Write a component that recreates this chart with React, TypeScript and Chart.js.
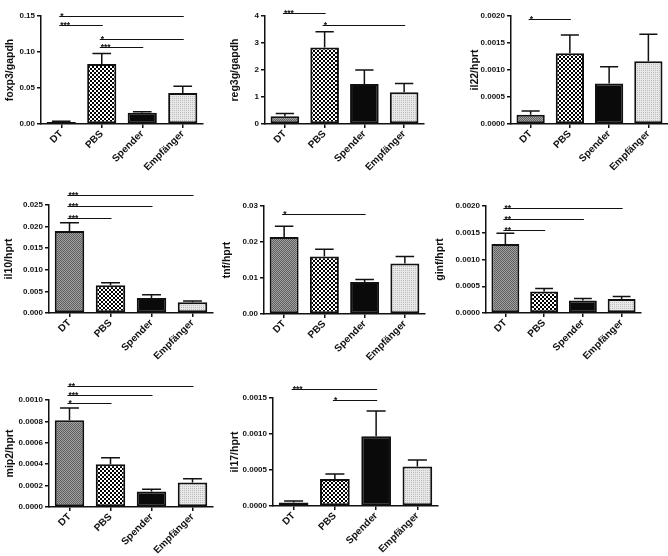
import React, { useEffect, useRef } from 'react';
import { Chart, registerables } from 'chart.js';

Chart.register(...registerables);

// ---------- data ----------
const categories = ['DT', 'PBS', 'Spender', 'Empfänger'];

const foxp3Mean = [0.0028, 0.0833, 0.0157, 0.043];
const foxp3Sem = [0.0009, 0.0147, 0.0014, 0.0093];
const foxp3Ticks = ['0.00', '0.05', '0.10', '0.15'];
const foxp3Sig = [[0, 3, 0.15, '*'], [0, 1, 0.1375, '***'], [1, 3, 0.118, '*'], [1, 2, 0.107, '***']];

const reg3gMean = [0.29, 2.83, 1.48, 1.18];
const reg3gSem = [0.1, 0.59, 0.52, 0.32];
const reg3gTicks = ['0', '1', '2', '3', '4'];
const reg3gSig = [[0, 1, 4.11, '***'], [1, 3, 3.67, '*']];

const il22Mean = [0.00017, 0.00131, 0.00075, 0.00116];
const il22Sem = [0.00007, 0.00034, 0.00031, 0.0005];
const il22Ticks = ['0.0000', '0.0005', '0.0010', '0.0015', '0.0020'];
const il22Sig = [[0, 1, 0.00194, '*']];

const il10Mean = [0.019, 0.0064, 0.0035, 0.0025];
const il10Sem = [0.0019, 0.0006, 0.0007, 0.0003];
const il10Ticks = ['0.000', '0.005', '0.010', '0.015', '0.020', '0.025'];
const il10Sig = [[0, 3, 0.0272, '***'], [0, 2, 0.0247, '***'], [0, 1, 0.022, '***']];

const tnfMean = [0.0214, 0.016, 0.0089, 0.014];
const tnfSem = [0.003, 0.002, 0.0007, 0.002];
const tnfTicks = ['0.00', '0.01', '0.02', '0.03'];
const tnfSig = [[0, 2, 0.0277, '*']];

const ginfMean = [0.00129, 0.0004, 0.000235, 0.00026];
const ginfSem = [0.0002, 0.000056, 0.000037, 0.00005];
const ginfTicks = ['0.0000', '0.0005', '0.0010', '0.0015', '0.0020'];
const ginfSig = [[0, 3, 0.00196, '**'], [0, 2, 0.00175, '**'], [0, 1, 0.00156, '**']];

const mip2Mean = [0.00081, 0.0004, 0.000146, 0.00023];
const mip2Sem = [0.000115, 0.00006, 0.00002, 0.000035];
const mip2Ticks = ['0.0000', '0.0002', '0.0004', '0.0006', '0.0008', '0.0010'];
const mip2Sig = [[0, 3, 0.001134, '**'], [0, 2, 0.001047, '***'], [0, 1, 0.00097, '*']];

const il17Mean = [0.00005, 0.000376, 0.00097, 0.00055];
const il17Sem = [0.00002, 0.00007, 0.00035, 0.00009];
const il17Ticks = ['0.0000', '0.0005', '0.0010', '0.0015'];
const il17Sig = [[0, 2, 0.00162, '***'], [1, 2, 0.00147, '*']];

// ---------- layout (pixel geometry of each panel) ----------
// tx: y-title centre x, ax: y-axis x, ar: x-axis right end, yt: top tick y, yb: zero y
const panels = [
  { title: 'foxp3/gapdh', mean: foxp3Mean, sem: foxp3Sem, ticks: foxp3Ticks, sig: foxp3Sig, geo: { tx: 10, ax: 41, ar: 203, yt: 16, yb: 124 } },
  { title: 'reg3g/gapdh', mean: reg3gMean, sem: reg3gSem, ticks: reg3gTicks, sig: reg3gSig, geo: { tx: 235, ax: 265, ar: 424, yt: 16, yb: 124 } },
  { title: 'il22/hprt', mean: il22Mean, sem: il22Sem, ticks: il22Ticks, sig: il22Sig, geo: { tx: 475, ax: 511, ar: 668, yt: 16, yb: 124 } },
  { title: 'il10/hprt', mean: il10Mean, sem: il10Sem, ticks: il10Ticks, sig: il10Sig, geo: { tx: 9, ax: 49, ar: 213, yt: 205, yb: 313 } },
  { title: 'tnf/hprt', mean: tnfMean, sem: tnfSem, ticks: tnfTicks, sig: tnfSig, geo: { tx: 227, ax: 264, ar: 425, yt: 206, yb: 314 } },
  { title: 'ginf/hprt', mean: ginfMean, sem: ginfSem, ticks: ginfTicks, sig: ginfSig, geo: { tx: 440, ax: 486, ar: 641, yt: 206, yb: 313 } },
  { title: 'mip2/hprt', mean: mip2Mean, sem: mip2Sem, ticks: mip2Ticks, sig: mip2Sig, geo: { tx: 10, ax: 49, ar: 213, yt: 400, yb: 507 } },
  { title: 'il17/hprt', mean: il17Mean, sem: il17Sem, ticks: il17Ticks, sig: il17Sig, geo: { tx: 235, ax: 273, ar: 438, yt: 398, yb: 506 } },
];

const FONT = '"Liberation Sans", Arial, Helvetica, sans-serif';
const INK = '#111';
const TITLE_SIZE = 10.5;
const PAD_TOP = 26;
const PAD_RIGHT = 6;
const X_H = 60;

function makePattern(size: number, draw: (c: CanvasRenderingContext2D) => void) {
  const cv = document.createElement('canvas');
  cv.width = size;
  cv.height = size;
  const c = cv.getContext('2d')!;
  draw(c);
  return c.createPattern(cv, 'repeat');
}

function makeFills() {
  const dt = makePattern(2, (c) => {
    c.fillStyle = '#a2a2a2';
    c.fillRect(0, 0, 2, 2);
    c.fillStyle = '#5e5e5e';
    c.fillRect(0, 0, 1, 1);
    c.fillRect(1, 1, 1, 1);
  });
  const pbs = makePattern(4, (c) => {
    c.fillStyle = '#fff';
    c.fillRect(0, 0, 4, 4);
    c.fillStyle = '#000';
    c.fillRect(0, 0, 2, 2);
    c.fillRect(2, 2, 2, 2);
  });
  const emp = makePattern(2, (c) => {
    c.fillStyle = '#e8e8e8';
    c.fillRect(0, 0, 2, 2);
    c.fillStyle = '#bdbdbd';
    c.fillRect(0, 0, 1, 1);
  });
  return [dt, pbs, '#0a0a0a', emp];
}

function makeOverlay(mean: number[], sem: number[], sig: any[]) {
  return {
    id: 'overlay',
    afterDatasetsDraw(chart: any) {
      const { ctx } = chart;
      const meta = chart.getDatasetMeta(0);
      const y = chart.scales.y;
      ctx.save();
      ctx.strokeStyle = INK;
      ctx.lineWidth = 1.5;
      meta.data.forEach((bar: any, i: number) => {
        const x = bar.x;
        const w = bar.width;
        const y0 = y.getPixelForValue(mean[i]);
        const y1 = y.getPixelForValue(mean[i] + sem[i]);
        ctx.beginPath();
        ctx.moveTo(x, y0);
        ctx.lineTo(x, y1);
        ctx.moveTo(x - w * 0.32, y1);
        ctx.lineTo(x + w * 0.32, y1);
        ctx.stroke();
      });
      ctx.lineWidth = 1.2;
      ctx.fillStyle = INK;
      ctx.font = `bold 8.5px ${FONT}`;
      ctx.textAlign = 'left';
      ctx.textBaseline = 'alphabetic';
      sig.forEach((s: any) => {
        const [a, b, v, label] = s;
        const x0 = meta.data[a].x - 2;
        const x1 = meta.data[b].x + 1;
        const yy = Math.round(y.getPixelForValue(v)) + 0.5;
        ctx.beginPath();
        ctx.moveTo(x0, yy);
        ctx.lineTo(x1, yy);
        ctx.stroke();
        ctx.fillText(label, x0 + 1, yy + 2);
      });
      ctx.restore();
    },
  };
}

function Panel({ spec }: { spec: any }) {
  const ref = useRef<HTMLCanvasElement>(null);
  const { title, mean, sem, ticks, sig, geo } = spec;
  const lh = TITLE_SIZE * 1.2;
  const left = Math.round(geo.tx - lh / 2);
  const top = geo.yt - PAD_TOP;
  const width = geo.ar - left + PAD_RIGHT;
  const height = geo.yb - top + X_H;
  const yW = geo.ax - left;

  useEffect(() => {
    const fills = makeFills();
    const tickVals = ticks.map((t: string) => parseFloat(t));
    const chart = new Chart(ref.current!, {
      type: 'bar',
      data: {
        labels: categories,
        datasets: [
          {
            data: mean,
            backgroundColor: fills as any,
            borderColor: INK,
            borderWidth: 2,
            borderSkipped: false,
            barPercentage: 0.72,
            categoryPercentage: 1,
          },
        ],
      },
      options: {
        animation: false,
        responsive: false,
        devicePixelRatio: 1,
        layout: { padding: { top: PAD_TOP, right: PAD_RIGHT, left: 0, bottom: 0 } },
        plugins: { legend: { display: false }, tooltip: { enabled: false } },
        scales: {
          x: {
            type: 'category',
            offset: true,
            grid: { display: true, drawOnChartArea: false, drawTicks: true, tickLength: 4, offset: false, color: INK, lineWidth: 1.5 },
            border: { display: true, color: INK, width: 1.5 },
            ticks: {
              autoSkip: false,
              minRotation: 45,
              maxRotation: 45,
              padding: 0,
              color: INK,
              font: { family: FONT, size: 10, weight: 'bold' },
            },
            afterFit: (s: any) => {
              s.height = X_H;
            },
          },
          y: {
            min: 0,
            max: tickVals[tickVals.length - 1],
            afterBuildTicks: (s: any) => {
              s.ticks = tickVals.map((v: number) => ({ value: v }));
            },
            grid: { display: true, drawOnChartArea: false, drawTicks: true, tickLength: 4, color: INK, lineWidth: 1.5 },
            border: { display: true, color: INK, width: 1.5 },
            ticks: {
              padding: 2,
              color: INK,
              font: { family: FONT, size: 8, weight: 'bold' },
              callback: (_v: any, i: number) => ticks[i],
            },
            title: {
              display: true,
              text: title,
              color: INK,
              padding: 0,
              font: { family: FONT, size: TITLE_SIZE, weight: 'bold' },
            },
            afterFit: (s: any) => {
              s.width = yW;
            },
          },
        },
      } as any,
      plugins: [makeOverlay(mean, sem, sig)],
    });
    return () => chart.destroy();
  }, []);

  return (
    <canvas
      ref={ref}
      width={width}
      height={height}
      style={{ position: 'absolute', left, top, width, height }}
    />
  );
}

export default function App() {
  return (
    <div
      style={{
        position: 'absolute',
        left: 0,
        top: 0,
        width: 668,
        height: 556,
        overflow: 'hidden',
        background: '#fff',
      }}
    >
      {panels.map((p, i) => (
        <Panel key={i} spec={p} />
      ))}
    </div>
  );
}
